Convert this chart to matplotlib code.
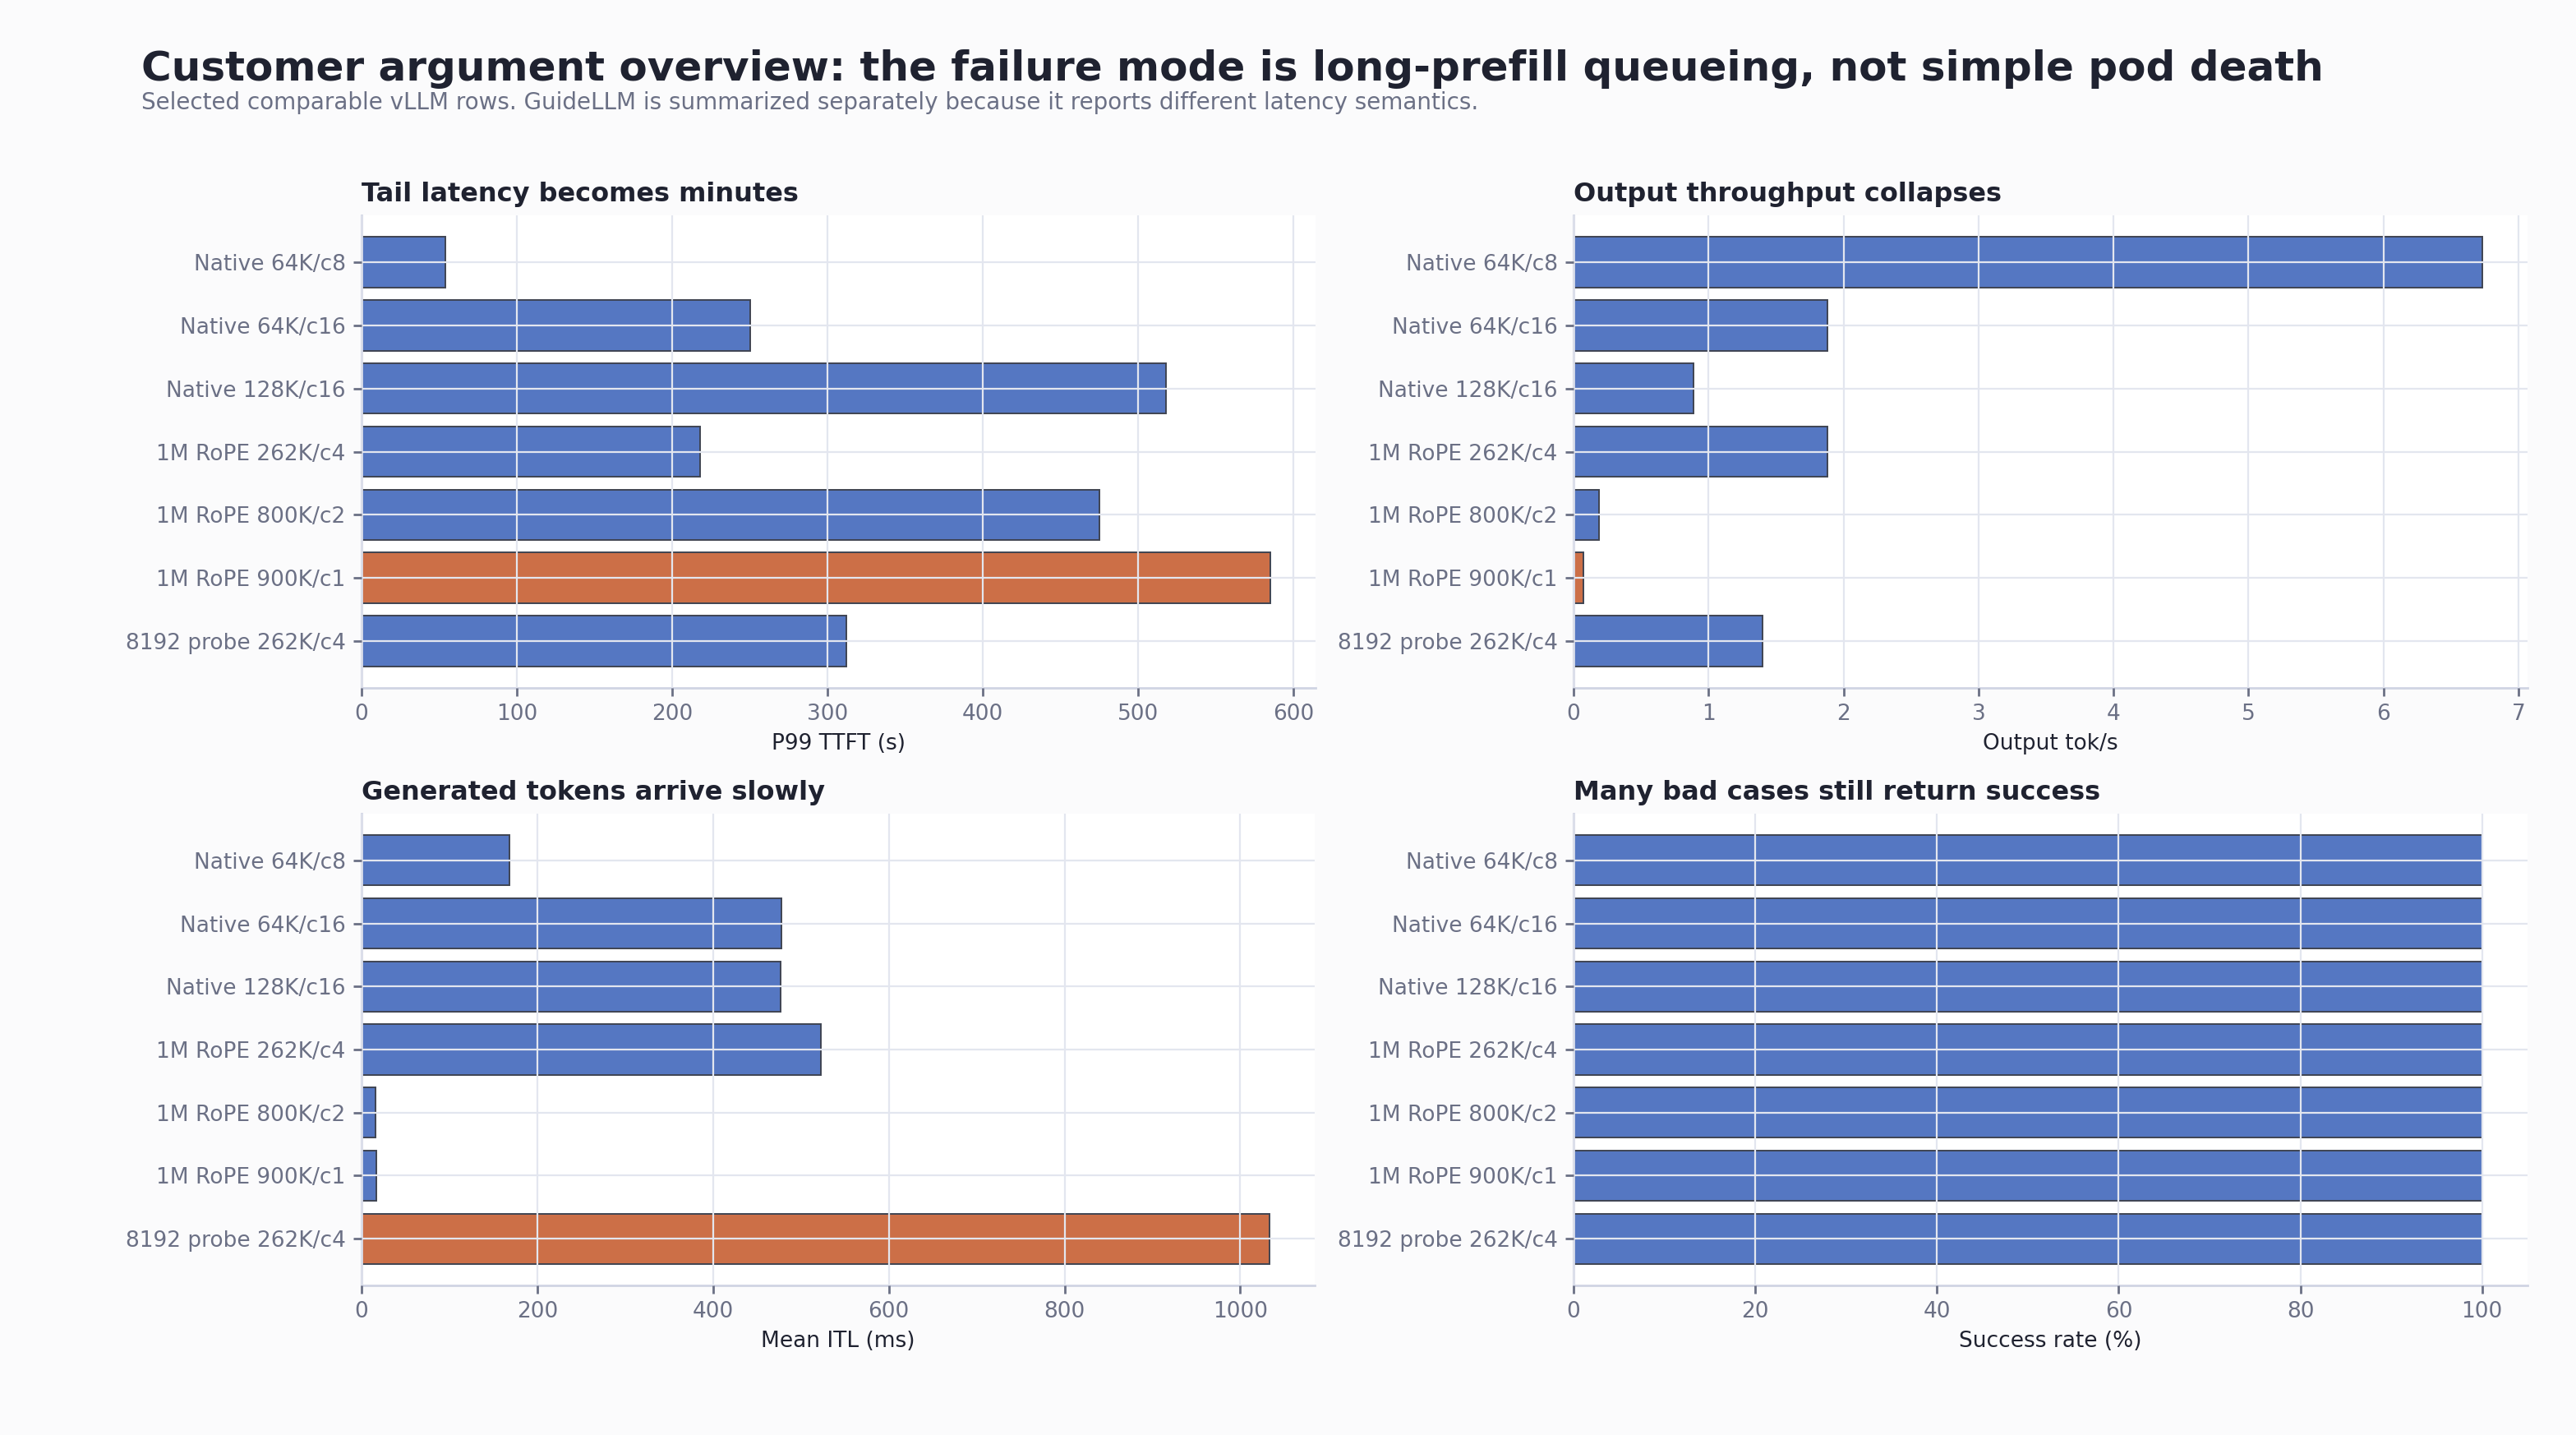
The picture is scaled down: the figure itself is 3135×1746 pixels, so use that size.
import matplotlib
matplotlib.use("Agg")
import matplotlib.pyplot as plt
import numpy as np

# rows shown in every panel (top to bottom)
labels = ['Native 64K/c8', 'Native 64K/c16', 'Native 128K/c16', '1M RoPE 262K/c4',
          '1M RoPE 800K/c2', '1M RoPE 900K/c1', '8192 probe 262K/c4']

p99_ttft_s = [54, 250, 518, 218, 475, 585, 312]
output_tok_s = [6.73, 1.88, 0.89, 1.88, 0.19, 0.07, 1.40]
mean_itl_ms = [168, 478, 477, 523, 16, 17, 1033]
success_pct = [100, 100, 100, 100, 100, 100, 100]

# which row gets the orange highlight in each panel
highlight_ttft = '1M RoPE 900K/c1'
highlight_tput = '1M RoPE 900K/c1'
highlight_itl = '8192 probe 262K/c4'
highlight_ok = None

BLUE = '#5577c2'
ORANGE = '#cc6f47'
EDGE = '#3f4452'
DARK = '#1f2230'
MUTED = '#6b7085'
GRID = '#e3e6ef'
SPINE = '#d0d4e3'

plt.rcParams['font.family'] = 'DejaVu Sans'

fig = plt.figure(figsize=(15.675, 8.73), dpi=200, facecolor='#fbfbfc')

W, H = 3135, 1746
def box(l, t, r, b):
    return [l / W, 1 - b / H, (r - l) / W, (b - t) / H]

panels = [
    (box(440, 262, 1601, 837), p99_ttft_s, highlight_ttft, 'Tail latency becomes minutes', 'P99 TTFT (s)'),
    (box(1915, 262, 3076, 837), output_tok_s, highlight_tput, 'Output throughput collapses', 'Output tok/s'),
    (box(440, 990, 1600, 1564), mean_itl_ms, highlight_itl, 'Generated tokens arrive slowly', 'Mean ITL (ms)'),
    (box(1915, 990, 3076, 1564), success_pct, highlight_ok, 'Many bad cases still return success', 'Success rate (%)'),
]

y = np.arange(len(labels))
for rect, vals, hl, title, xlabel in panels:
    ax = fig.add_axes(rect)
    ax.set_facecolor('white')
    colors = [ORANGE if lab == hl else BLUE for lab in labels]
    ax.barh(y, vals, height=0.8, color=colors, edgecolor=EDGE, linewidth=0.7, zorder=1)
    ax.set_yticks(y)
    ax.set_yticklabels(labels)
    ax.invert_yaxis()
    ax.set_axisbelow(False)
    ax.grid(True, color=GRID, linewidth=0.8, zorder=2)
    for s in ['top', 'right']:
        ax.spines[s].set_visible(False)
    for s in ['left', 'bottom']:
        ax.spines[s].set_color(SPINE)
        ax.spines[s].set_linewidth(1.0)
    ax.tick_params(colors=MUTED, labelsize=9.5, length=3.5, width=1.0)
    ax.set_title(title, loc='left', fontsize=11.5, fontweight='bold', color=DARK, pad=6)
    ax.set_xlabel(xlabel, fontsize=9.5, color=DARK, labelpad=3.5)

fig.text(86 * 2 / W, 1 - 84 / H, 'Customer argument overview: the failure mode is long-prefill queueing, not simple pod death',
         fontsize=18, fontweight='bold', color=DARK, va='center', ha='left')
fig.text(86 * 2 / W, 1 - 125 / H, 'Selected comparable vLLM rows. GuideLLM is summarized separately because it reports different latency semantics.',
         fontsize=10, color=MUTED, va='center', ha='left')

fig.savefig('out.png', dpi=200, facecolor=fig.get_facecolor())
